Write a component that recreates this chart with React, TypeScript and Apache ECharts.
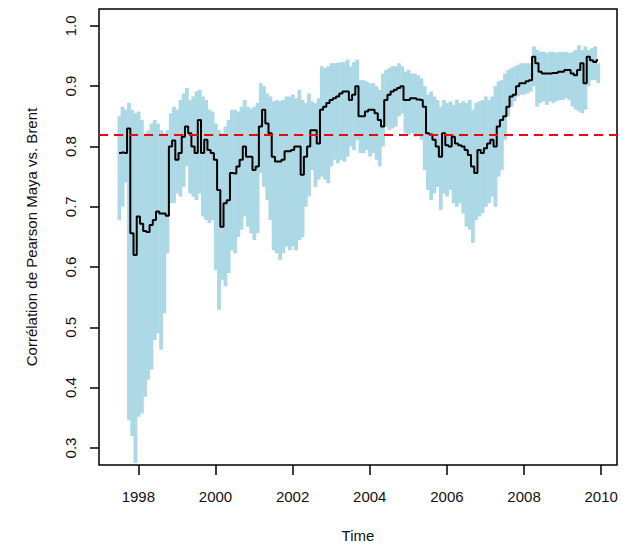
import React, { useEffect, useRef } from "react";
import * as echarts from "echarts";

// Monthly time series (ts-like): start 1997.5, frequency 12
const START = 1997.5;
const FREQ = 12;

const corr = [
  0.789, 0.79, 0.789, 0.83, 0.656, 0.62, 0.684, 0.672, 0.66, 0.658,
  0.67, 0.678, 0.692, 0.689, 0.689, 0.685, 0.8, 0.81, 0.778, 0.789,
  0.816, 0.833, 0.822, 0.8, 0.789, 0.844, 0.789, 0.811, 0.794, 0.789,
  0.778, 0.728, 0.667, 0.706, 0.711, 0.756, 0.755, 0.767, 0.778, 0.8,
  0.783, 0.783, 0.761, 0.767, 0.833, 0.861, 0.838, 0.822, 0.783, 0.775,
  0.775, 0.778, 0.792, 0.792, 0.794, 0.8, 0.8, 0.753, 0.783, 0.8,
  0.827, 0.827, 0.805, 0.861, 0.866, 0.872, 0.877, 0.88, 0.883, 0.888,
  0.891, 0.891, 0.877, 0.886, 0.9, 0.85, 0.85, 0.858, 0.861, 0.861,
  0.855, 0.844, 0.833, 0.877, 0.886, 0.891, 0.894, 0.897, 0.9, 0.877,
  0.877, 0.88, 0.88, 0.878, 0.877, 0.866, 0.822, 0.82, 0.811, 0.8,
  0.783, 0.822, 0.802, 0.8, 0.816, 0.805, 0.802, 0.8, 0.794, 0.786,
  0.767, 0.756, 0.794, 0.789, 0.797, 0.805, 0.811, 0.8, 0.833, 0.844,
  0.85, 0.866, 0.883, 0.886, 0.9, 0.905, 0.905, 0.908, 0.91, 0.949,
  0.938, 0.924, 0.921, 0.921, 0.921, 0.922, 0.922, 0.924, 0.924, 0.927,
  0.927, 0.921, 0.918, 0.927, 0.938, 0.905, 0.949, 0.943, 0.94, 0.943,
];

const upper = [
  0.85, 0.866, 0.861, 0.872, 0.861, 0.855, 0.858, 0.844, 0.822, 0.827,
  0.838, 0.844, 0.838, 0.827, 0.822, 0.827, 0.855, 0.866, 0.861, 0.877,
  0.888, 0.897, 0.877, 0.883, 0.891, 0.894, 0.883, 0.877, 0.861, 0.858,
  0.838, 0.827, 0.822, 0.833, 0.844, 0.861, 0.861, 0.858, 0.866, 0.877,
  0.866, 0.863, 0.866, 0.872, 0.905, 0.9, 0.888, 0.883, 0.875, 0.877,
  0.875, 0.877, 0.883, 0.883, 0.886, 0.88, 0.894, 0.877, 0.872, 0.888,
  0.875, 0.872, 0.88, 0.933, 0.93, 0.933, 0.938, 0.938, 0.939, 0.94,
  0.94, 0.944, 0.933, 0.94, 0.944, 0.91, 0.91, 0.908, 0.905, 0.905,
  0.9, 0.894, 0.921, 0.927, 0.93, 0.933, 0.933, 0.938, 0.933, 0.924,
  0.927, 0.921, 0.921, 0.918, 0.913, 0.9, 0.886, 0.891, 0.883, 0.877,
  0.866, 0.877, 0.872, 0.875, 0.869, 0.877, 0.872, 0.875, 0.872, 0.877,
  0.861, 0.872, 0.875, 0.877, 0.883, 0.877, 0.883, 0.9, 0.908, 0.91,
  0.921, 0.927, 0.93, 0.933, 0.935, 0.938, 0.938, 0.938, 0.938, 0.966,
  0.96, 0.957, 0.957, 0.955, 0.957, 0.957, 0.955, 0.957, 0.957, 0.957,
  0.955, 0.957, 0.96, 0.968, 0.96, 0.966, 0.96, 0.963, 0.966, 0.938,
];

const lower = [
  0.678, 0.7, 0.74, 0.346, 0.32, 0.275, 0.352, 0.357, 0.385, 0.413,
  0.43, 0.479, 0.49, 0.463, 0.523, 0.623, 0.706, 0.706, 0.722, 0.717,
  0.733, 0.767, 0.722, 0.717, 0.711, 0.722, 0.684, 0.678, 0.673, 0.678,
  0.595, 0.529, 0.579, 0.568, 0.59, 0.628, 0.623, 0.65, 0.662, 0.684,
  0.667, 0.656, 0.645, 0.656, 0.756, 0.733, 0.711, 0.678, 0.628, 0.623,
  0.612, 0.623, 0.634, 0.628, 0.634, 0.628, 0.645, 0.65, 0.7, 0.717,
  0.761, 0.733, 0.745, 0.75, 0.745, 0.739, 0.767, 0.778, 0.772, 0.778,
  0.775, 0.783, 0.8, 0.794, 0.811, 0.789, 0.789, 0.794, 0.783, 0.789,
  0.778, 0.767, 0.8, 0.833, 0.827, 0.83, 0.833, 0.85, 0.855, 0.822,
  0.819, 0.822, 0.816, 0.819, 0.811, 0.761, 0.728, 0.711, 0.722, 0.733,
  0.695, 0.722, 0.717, 0.728, 0.706, 0.7, 0.706, 0.689, 0.667, 0.662,
  0.64, 0.678, 0.684, 0.689, 0.7, 0.706, 0.717, 0.7, 0.75, 0.761,
  0.811, 0.85, 0.866, 0.875, 0.883, 0.886, 0.886, 0.888, 0.891, 0.9,
  0.866, 0.872, 0.875, 0.869, 0.875, 0.872, 0.875, 0.877, 0.877, 0.88,
  0.877, 0.866, 0.861, 0.858, 0.855, 0.861, 0.9, 0.91, 0.91, 0.905,
];

const refLevel = 0.825;
const xTicks = [1998, 2000, 2002, 2004, 2006, 2008, 2010];
const yTicks = [0.3, 0.4, 0.5, 0.6, 0.7, 0.8, 0.9, 1.0];

const FONT = "'Liberation Sans', Arial, sans-serif";

export default function App() {
  const ref = useRef<HTMLDivElement>(null);

  useEffect(() => {
    if (!ref.current) return;
    const chart = echarts.init(ref.current, null, { renderer: "svg" });
    const step = 1 / FREQ;
    const years = corr.map((_, i) => START + i * step);
    const lineData = corr.map((v, i) => [years[i], v]);
    const bandData = lower.map((lo, i) => [years[i], lo, upper[i]]);

    chart.setOption({
      animation: false,
      backgroundColor: "#ffffff",
      grid: {
        left: 99,
        top: 9,
        right: 16,
        bottom: 84,
        show: true,
        borderColor: "#000",
        borderWidth: 1.5,
        backgroundColor: "transparent",
      },
      xAxis: {
        type: "value",
        min: 1996.98,
        max: 2010.41,
        name: "Time",
        nameLocation: "middle",
        nameGap: 63,
        nameTextStyle: { fontFamily: FONT, fontSize: 15, color: "#111" },
        axisLine: { show: false },
        splitLine: { show: false },
        axisTick: {
          show: true,
          customValues: xTicks,
          length: 10,
          lineStyle: { color: "#000", width: 1.5 },
        },
        axisLabel: {
          customValues: xTicks,
          margin: 24,
          fontFamily: FONT,
          fontSize: 15,
          color: "#111",
          formatter: (v: number) => String(Math.round(v)),
        },
      },
      yAxis: {
        type: "value",
        min: 0.2718,
        max: 1.028,
        name: "Corrélation de Pearson Maya vs. Brent",
        nameLocation: "middle",
        nameGap: 60,
        nameRotate: 90,
        nameTextStyle: { fontFamily: FONT, fontSize: 15, color: "#111" },
        axisLine: { show: false },
        splitLine: { show: false },
        axisTick: {
          show: true,
          customValues: yTicks,
          length: 9,
          lineStyle: { color: "#000", width: 1.5 },
        },
        axisLabel: {
          customValues: yTicks,
          rotate: 90,
          margin: 21,
          fontFamily: FONT,
          fontSize: 15,
          color: "#111",
          formatter: (v: number) => v.toFixed(1),
        },
      },
      series: [
        {
          type: "custom",
          name: "band",
          clip: true,
          silent: true,
          z: 1,
          data: bandData,
          renderItem: (params: any, api: any) => {
            const x = api.value(0);
            const p1 = api.coord([x - step / 2, api.value(2)]);
            const p2 = api.coord([x + step / 2, api.value(1)]);
            return {
              type: "rect",
              shape: {
                x: p1[0],
                y: p1[1],
                width: p2[0] - p1[0] + 0.6,
                height: p2[1] - p1[1],
              },
              style: { fill: "#ADD8E6" },
            };
          },
        },
        {
          type: "line",
          name: "corr",
          data: lineData,
          step: "middle",
          showSymbol: false,
          symbol: "none",
          z: 2,
          lineStyle: { color: "#000", width: 2 },
          markLine: {
            silent: true,
            symbol: "none",
            label: { show: false },
            lineStyle: { color: "#FF0000", width: 2, type: [9, 6] },
            data: [{ yAxis: refLevel }],
          },
        },
      ],
    });
    return () => chart.dispose();
  }, []);

  return (
    <div
      ref={ref}
      style={{ position: "fixed", left: 0, top: 0, width: 633, height: 549 }}
    />
  );
}
